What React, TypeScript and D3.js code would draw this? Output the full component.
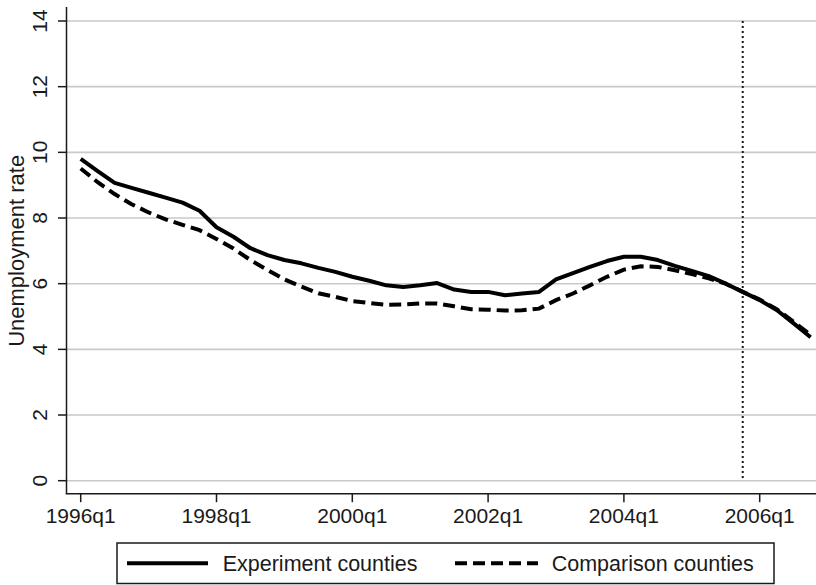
import React from "react";
import * as d3 from "d3";

// Quarterly unemployment rate, 1996q1 .. 2006q4 (44 quarters)
const startYear = 1996;
const experimentCounties = [
  9.80, 9.43, 9.07, 8.92, 8.77, 8.62, 8.47, 8.22,
  7.72, 7.43, 7.08, 6.87, 6.72, 6.62, 6.48, 6.36,
  6.21, 6.09, 5.95, 5.90, 5.95, 6.02, 5.82, 5.75,
  5.75, 5.65, 5.70, 5.75, 6.13, 6.32, 6.51, 6.69,
  6.82, 6.82, 6.72, 6.54, 6.39, 6.23, 6.00, 5.75,
  5.50, 5.20, 4.79, 4.37,
];
const comparisonCounties = [
  9.51, 9.09, 8.73, 8.42, 8.17, 7.96, 7.79, 7.63,
  7.36, 7.07, 6.72, 6.42, 6.13, 5.91, 5.71, 5.60,
  5.47, 5.41, 5.36, 5.37, 5.40, 5.40, 5.31, 5.22,
  5.21, 5.18, 5.19, 5.24, 5.50, 5.70, 5.95, 6.21,
  6.43, 6.53, 6.51, 6.41, 6.29, 6.16, 6.00, 5.75,
  5.52, 5.22, 4.84, 4.44,
];
const xTickQuarters = [0, 8, 16, 24, 32, 40];
const yTicks = [0, 2, 4, 6, 8, 10, 12, 14];
const policyQuarter = 39; // 2005q4
const legendLabels = ["Experiment counties", "Comparison counties"];
const yTitle = "Unemployment rate";

const FONT = "'Liberation Sans', Arial, Helvetica, sans-serif";
const INK = "#1a1a1a";

export default function App() {
  const W = 816;
  const H = 585;
  const axisX = 66.5;
  const axisY = 493.7;

  const x = d3.scaleLinear().domain([0, 40]).range([80.7, 759.7]);
  const y = d3.scaleLinear().domain([0, 14]).range([480.7, 21]);

  const line = d3
    .line<number>()
    .x((_, i) => x(i))
    .y((d) => y(d));

  const qLabel = (q: number) => `${startYear + Math.floor(q / 4)}q${(q % 4) + 1}`;

  return (
    <svg
      width={W}
      height={H}
      style={{ position: "absolute", left: 0, top: 0, background: "#fff" }}
      fontFamily={FONT}
    >
      <rect x={0} y={0} width={W} height={H} fill="#fff" />

      {/* horizontal grid */}
      {yTicks.map((t) => (
        <line
          key={`g${t}`}
          x1={axisX}
          x2={W}
          y1={y(t)}
          y2={y(t)}
          stroke="#c9c9c9"
          strokeWidth={1.6}
        />
      ))}

      {/* axes */}
      <line x1={axisX} x2={axisX} y1={7} y2={axisY} stroke={INK} strokeWidth={1.5} />
      <line x1={axisX - 0.75} x2={W} y1={axisY} y2={axisY} stroke={INK} strokeWidth={1.5} />

      {/* y ticks and rotated labels */}
      {yTicks.map((t) => (
        <g key={`y${t}`}>
          <line x1={axisX - 8.5} x2={axisX} y1={y(t)} y2={y(t)} stroke={INK} strokeWidth={1.5} />
          <text
            transform={`translate(46.5,${y(t)}) rotate(-90)`}
            textAnchor="middle"
            fontSize={21}
            fill={INK}
          >
            {t}
          </text>
        </g>
      ))}

      {/* x ticks and labels */}
      {xTickQuarters.map((q) => (
        <g key={`x${q}`}>
          <line x1={x(q)} x2={x(q)} y1={axisY} y2={axisY + 8.5} stroke={INK} strokeWidth={1.5} />
          <text x={x(q)} y={523} textAnchor="middle" fontSize={21} fill={INK}>
            {qLabel(q)}
          </text>
        </g>
      ))}

      {/* y axis title */}
      <text
        transform={`translate(23.5,${(y(0) + y(14)) / 2}) rotate(-90)`}
        textAnchor="middle"
        fontSize={22}
        fill={INK}
      >
        {yTitle}
      </text>

      {/* policy start marker */}
      <line
        x1={x(policyQuarter)}
        x2={x(policyQuarter)}
        y1={y(14)}
        y2={y(0)}
        stroke={INK}
        strokeWidth={2}
        strokeDasharray="2 3"
      />

      {/* series */}
      <path
        d={line(comparisonCounties) ?? ""}
        fill="none"
        stroke="#000"
        strokeWidth={4}
        strokeDasharray="12 6"
      />
      <path
        d={line(experimentCounties) ?? ""}
        fill="none"
        stroke="#000"
        strokeWidth={4}
        strokeLinejoin="round"
      />

      {/* legend */}
      <rect x={117} y={543} width={657} height={40.5} fill="#fff" stroke={INK} strokeWidth={1.5} />
      <line x1={127} x2={208} y1={563.3} y2={563.3} stroke="#000" strokeWidth={4} />
      <text x={222.7} y={570.5} fontSize={21.5} fill={INK}>
        {legendLabels[0]}
      </text>
      <line
        x1={455}
        x2={538}
        y1={563.3}
        y2={563.3}
        stroke="#000"
        strokeWidth={4}
        strokeDasharray="12 6"
      />
      <text x={551.7} y={570.5} fontSize={21.5} fill={INK}>
        {legendLabels[1]}
      </text>
    </svg>
  );
}
